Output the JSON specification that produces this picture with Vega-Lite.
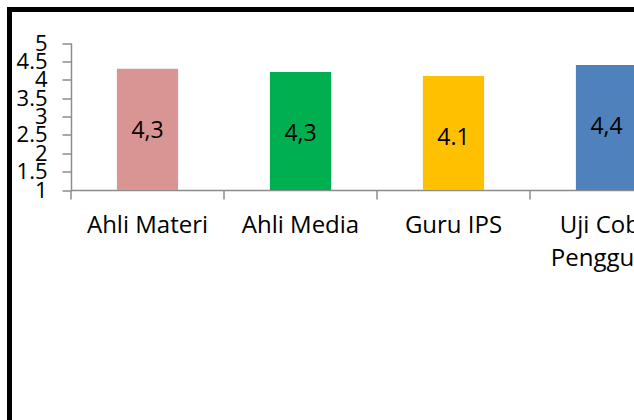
{
  "$schema": "https://vega.github.io/schema/vega-lite/v6.json",
  "width": 700,
  "height": 440,
  "autosize": {"type": "none"},
  "padding": {"left": 9.5, "top": 9.5, "right": -75.5, "bottom": -29.5},
  "background": "white",
  "config": {
    "view": {"stroke": "black", "strokeWidth": 5, "fill": "white"},
    "font": "Open Sans"
  },
  "data": {
    "values": [
      {"kategori": "Ahli Materi", "nilai": 4.3, "label": "4,3"},
      {"kategori": "Ahli Media", "nilai": 4.21, "label": "4,3"},
      {"kategori": "Guru IPS", "nilai": 4.1, "label": "4.1"},
      {"kategori": "Uji Coba Pengguna", "nilai": 4.4, "label": "4,4"}
    ]
  },
  "encoding": {
    "x": {
      "field": "kategori",
      "type": "nominal",
      "sort": null,
      "scale": {"range": [61.5, 673.5], "paddingInner": 0, "paddingOuter": 0},
      "axis": {
        "title": null,
        "orient": "bottom",
        "offset": -259.5,
        "bandPosition": 0,
        "tickSize": 9,
        "tickColor": "#8c8c8c",
        "tickWidth": 1.5,
        "domainColor": "#8c8c8c",
        "domainWidth": 1.5,
        "labelAngle": 0,
        "labelFont": "Open Sans",
        "labelFontSize": 24,
        "labelColor": "black",
        "labelPadding": 14,
        "labelLineHeight": 33,
        "labelLimit": 400,
        "labelOverlap": false,
        "labelExpr": "datum.label == 'Uji Coba Pengguna' ? ['Uji Coba', 'Pengguna'] : datum.label"
      }
    }
  },
  "layer": [
    {
      "mark": {"type": "bar", "width": {"band": 0.4}},
      "encoding": {
        "y": {
          "field": "nilai",
          "type": "quantitative",
          "scale": {"domain": [1, 5], "range": [180.5, 33.5], "zero": false, "nice": false},
          "axis": {
            "title": null,
            "orient": "left",
            "offset": -61.5,
            "values": [1, 1.5, 2, 2.5, 3, 3.5, 4, 4.5, 5],
            "format": "~g",
            "grid": false,
            "tickSize": 9,
            "tickColor": "#8c8c8c",
            "tickWidth": 1.5,
            "domainColor": "#8c8c8c",
            "domainWidth": 1.5,
            "labelFont": "Open Sans",
            "labelFontSize": 22,
            "labelColor": "black",
            "labelPadding": 15,
            "labelOverlap": false,
            "labelFlush": false
          }
        },
        "y2": {"datum": 1},
        "color": {
          "field": "kategori",
          "type": "nominal",
          "scale": {
            "domain": ["Ahli Materi", "Ahli Media", "Guru IPS", "Uji Coba Pengguna"],
            "range": ["#D99594", "#00B050", "#FFC000", "#4F81BD"]
          },
          "legend": null
        }
      }
    },
    {
      "mark": {"type": "text", "baseline": "middle", "dy": 62, "font": "Open Sans", "fontSize": 23, "color": "black"},
      "encoding": {
        "y": {"field": "nilai", "type": "quantitative"},
        "text": {"field": "label"}
      }
    }
  ]
}
